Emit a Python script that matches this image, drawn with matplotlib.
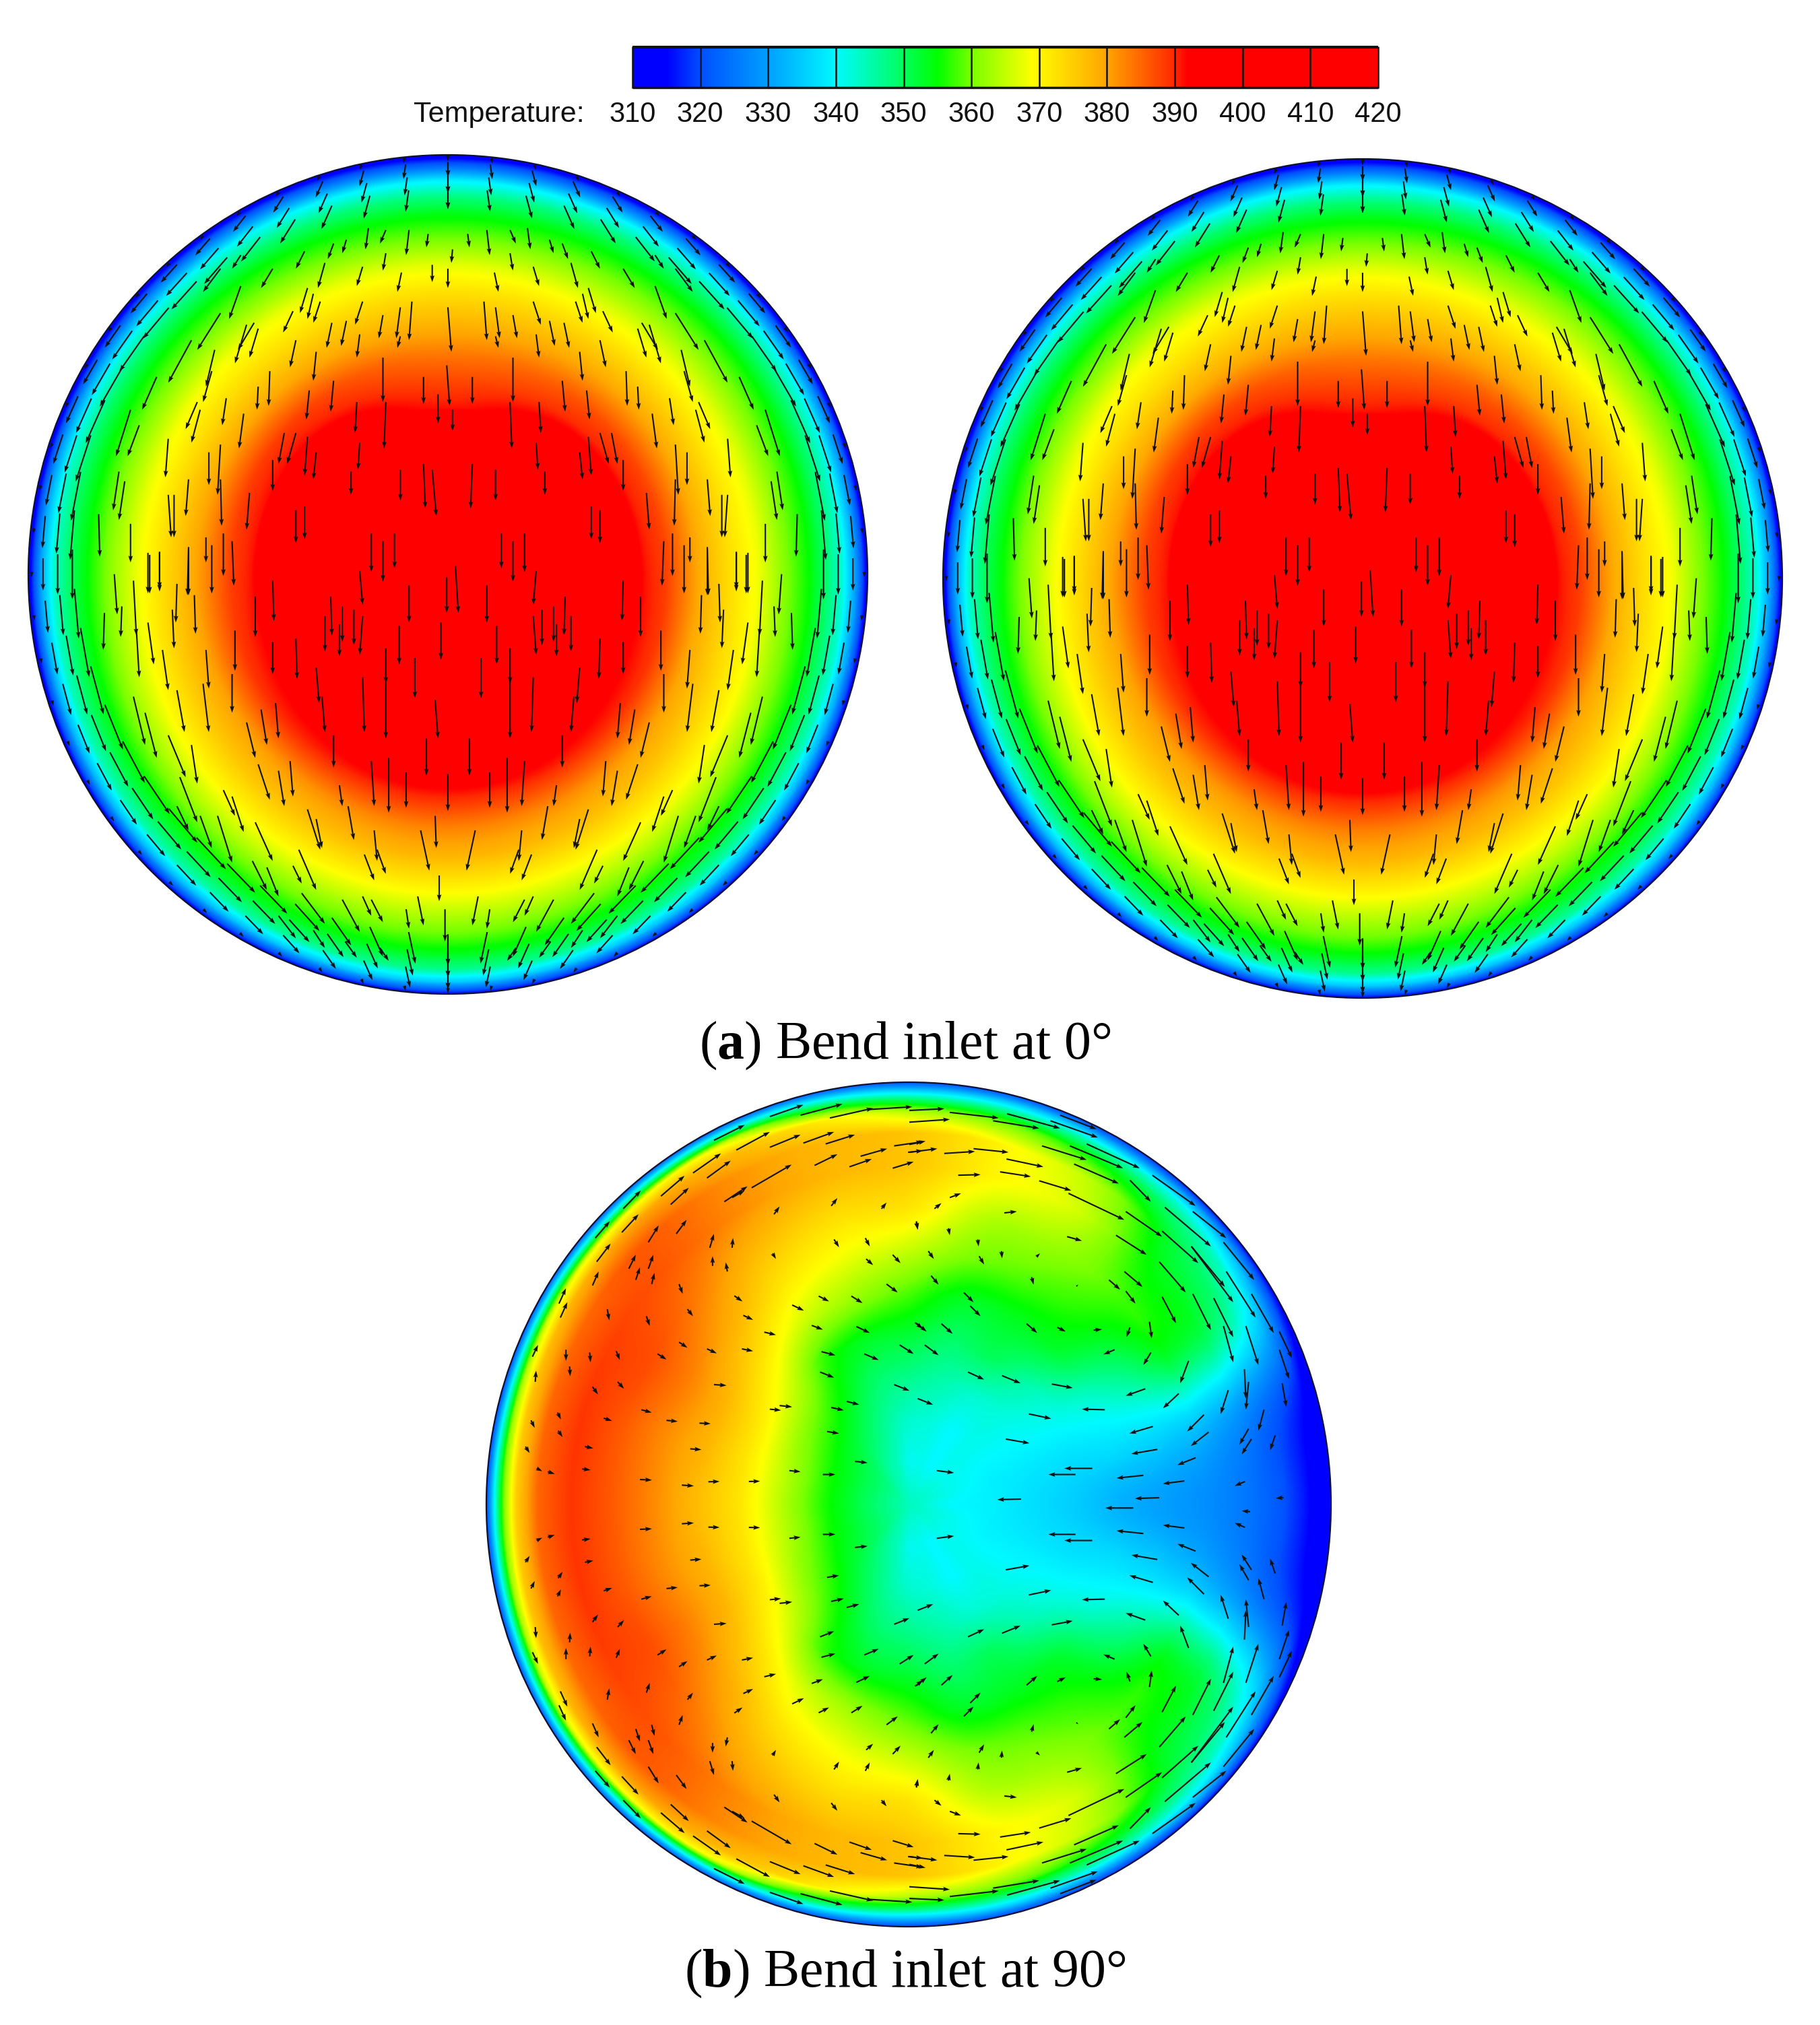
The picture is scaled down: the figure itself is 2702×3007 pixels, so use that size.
import numpy as np
import matplotlib
matplotlib.use("Agg")
import matplotlib.pyplot as plt
from matplotlib.colors import LinearSegmentedColormap
from matplotlib.patches import Circle

plt.rcParams["mathtext.fontset"] = "custom"
plt.rcParams["mathtext.rm"] = "Liberation Serif"
plt.rcParams["mathtext.bf"] = "Liberation Serif:bold"

# colour scale
cbar_ticks = [310, 320, 330, 340, 350, 360, 370, 380, 390, 400, 410, 420]
cmap_vals = [310, 315, 320, 330, 340, 350, 355, 360, 369, 380, 390, 392, 420]
cmap_cols = [(0, 0, 255), (0, 0, 255), (0, 80, 255), (0, 160, 255), (0, 250, 255), (0, 255, 90),
             (0, 255, 0), (120, 255, 0), (255, 255, 0), (255, 165, 0), (255, 40, 0), (255, 0, 0), (255, 0, 0)]

# temperature along rays, panel (a). columns: right, NE, top, NW, left, SW, bottom, SE
a_r = [0, .30, .40, .47, .52, .60, .67, .74, .80, .86, .90, .94, .97, 1.0, 1.03]
a_deg = [0, 45, 90, 135, 180, 225, 270, 315]
a_temp = [
    [420, 420, 420, 420, 420, 420, 420, 420],
    [412, 410, 405, 410, 412, 412, 414, 412],
    [400, 398, 391, 398, 400, 401, 405, 401],
    [391, 390, 387, 391, 391, 393, 396, 393],
    [388, 387, 384, 388, 388, 390, 391, 390],
    [379, 379, 378, 379, 380, 381, 383, 381],
    [373, 373, 373, 373, 374, 376, 378, 376],
    [368, 367, 367, 368, 368, 370, 371, 370],
    [361, 361, 360, 361, 362, 364, 365, 364],
    [355, 355, 354, 355, 355, 357, 359, 357],
    [349, 349, 348, 349, 350, 352, 354, 352],
    [342, 341, 339, 341, 343, 345, 347, 345],
    [330, 328, 325, 328, 331, 333, 335, 333],
    [312, 312, 312, 312, 312, 314, 314, 314],
    [310, 310, 310, 310, 310, 310, 310, 310],
]

# temperature along rays, panel (b), upper half (0 = right, 90 = top, 180 = left)
b_r = [0, .1, .2, .3, .4, .5, .6, .7, .8, .88, .93, .96, .98, 1.0, 1.03]
b_deg = [0, 15, 30, 45, 60, 75, 90, 105, 120, 135, 150, 165, 180]
b_temp = [
    [344, 344, 344, 344, 344, 344, 344, 344, 344, 344, 344, 344, 344],
    [340, 341, 341, 341, 340, 341, 341, 344, 346, 349, 350, 350, 350],
    [339, 339, 340, 341, 340, 342, 343, 346, 350, 353, 355, 356, 356],
    [337, 338, 340, 342, 343, 345, 347, 349, 354, 359, 362, 364, 364],
    [335, 337, 341, 345, 350, 349, 352, 353, 357, 366, 371, 372, 372],
    [332, 337, 343, 352, 353, 353, 358, 362, 366, 373, 378, 378, 377],
    [330, 336, 347, 355, 358, 360, 365, 368, 372, 379, 383, 382, 382],
    [328, 334, 353, 358, 362, 364, 372, 373, 377, 383, 387, 386, 386],
    [325, 329, 351, 355, 366, 370, 376, 378, 382, 386, 388, 389, 389],
    [321, 323, 345, 352, 364, 370, 376, 378, 382, 386, 385, 385, 385],
    [317, 319, 338, 347, 354, 360, 364, 372, 378, 380, 378, 376, 375],
    [314, 316, 330, 340, 344, 346, 348, 355, 368, 368, 366, 362, 360],
    [312, 313, 322, 330, 332, 335, 335, 340, 345, 345, 345, 342, 342],
    [310, 310, 314, 315, 318, 320, 320, 322, 322, 322, 322, 320, 320],
    [310, 310, 310, 310, 312, 312, 312, 312, 312, 312, 312, 312, 312],
]

# near-wall vectors of panel (a), left half: angle from top, tilt off vertical, lengths on 4 rings
rim_deg = [0, 6, 12, 18, 24, 30, 36, 42, 48, 54, 60, 66, 72, 78, 84, 90, 96, 102, 108, 114, 120, 126, 132, 138, 144, 150, 156, 162, 168, 174, 180]
rim_tilt = [0, 8, 15, 24, 32, 38, 41, 42, 40, 35, 30, 24, 18, 11, 5, 0, -5, -10, -15, -22, -28, -34, -40, -43, -44, -44, -42, -35, -24, -12, 0]
rim_r = [.992, .965, .93, .895]
rim_len = [
    [8, 8, 8, 8, 8, 8, 8, 8, 8, 8, 8, 8, 8, 8, 8, 8, 8, 8, 8, 8, 8, 8, 8, 8, 8, 8, 8, 8, 8, 8, 8],
    [22, 22, 24, 26, 28, 30, 33, 36, 38, 40, 42, 44, 46, 46, 48, 48, 48, 48, 48, 46, 46, 44, 42, 42, 40, 38, 36, 34, 32, 32, 30],
    [26, 27, 30, 32, 35, 38, 42, 46, 50, 52, 54, 56, 58, 60, 60, 60, 60, 60, 60, 58, 58, 56, 54, 52, 50, 48, 45, 42, 40, 40, 38],
    [30, 32, 35, 38, 42, 46, 52, 56, 60, 64, 68, 70, 72, 74, 74, 74, 74, 74, 74, 72, 70, 68, 66, 64, 60, 58, 54, 50, 48, 48, 46],
]

# inner vectors of panel (a), left half: x0, y0, x1, y1
a_top_arrows = [
    (665, 595, 655, 630), (705, 595, 700, 660), (738, 605, 735, 640), (635, 590, 630, 645), (597, 620, 590, 655),
    (575, 630, 565, 670), (525, 650, 510, 695), (415, 660, 400, 695), (380, 695, 350, 755), (470, 695, 450, 745),
    (560, 680, 548, 745), (625, 690, 615, 740), (665, 655, 660, 700), (692, 705, 685, 755), (780, 645, 778, 680),
    (745, 685, 745, 730), (772, 695, 772, 745), (415, 740, 395, 825), (530, 745, 517, 810), (540, 760, 530, 825),
    (552, 780, 540, 835), (710, 780, 705, 880), (690, 795, 683, 875), (660, 815, 653, 875), (625, 780, 612, 840),
    (572, 835, 563, 900), (597, 830, 588, 895), (505, 805, 488, 860), (772, 795, 778, 910), (510, 880, 500, 950),
    (438, 835, 410, 905), (425, 840, 405, 940), (445, 850, 430, 925), (620, 865, 615, 925), (690, 870, 685, 900),
    (380, 810, 340, 905), (330, 880, 290, 990), (465, 960, 463, 1050), (445, 1000, 443, 1060), (370, 905, 355, 1000),
    (365, 960, 350, 1040), (340, 1040, 320, 1110), (345, 1060, 330, 1145), (420, 1070, 412, 1160), (390, 1030, 383, 1100),
    (545, 910, 540, 985), (575, 985, 570, 1065), (533, 1010, 528, 1085), (615, 1040, 612, 1120), (660, 925, 660, 1040),
    (730, 975, 730, 1045), (770, 945, 775, 1050), (755, 1020, 755, 1095), (780, 1060, 780, 1115), (665, 1040, 662, 1160),
    (620, 1145, 617, 1215), (510, 1120, 495, 1200), (490, 1120, 480, 1200), (530, 1130, 525, 1230), (545, 1170, 540, 1240),
    (290, 1135, 285, 1235), (380, 1150, 375, 1280), (360, 1170, 360, 1255), (270, 975, 245, 1060), (225, 1060, 200, 1180),
    (240, 1100, 220, 1180), (205, 1220, 195, 1320), (215, 1245, 205, 1345), (290, 1280, 295, 1390), (300, 1280, 300, 1390),
    (325, 1240, 320, 1335), (380, 1240, 382, 1360), (430, 1275, 425, 1370), (470, 1190, 470, 1270), (525, 1310, 525, 1395),
    (510, 1320, 510, 1405), (605, 1220, 605, 1280), (690, 1215, 690, 1295), (730, 1200, 733, 1315), (745, 1215, 752, 1335),
    (640, 1380, 640, 1480), (660, 1400, 660, 1505), (680, 1380, 680, 1470), (225, 1355, 225, 1455), (170, 1330, 172, 1440),
    (255, 1430, 255, 1535), (275, 1430, 275, 1530), (325, 1415, 325, 1540), (355, 1390, 355, 1455), (385, 1380, 385, 1490),
    (400, 1400, 403, 1515),
]
a_low_arrows = [
    (258, 50, 258, 170), (275, 40, 275, 155), (325, 30, 323, 175), (365, 20, 365, 170), (197, 110, 202, 235),
    (230, 130, 235, 300), (305, 140, 303, 260), (335, 175, 337, 295), (297, 220, 300, 340), (180, 230, 178, 345),
    (210, 210, 208, 305), (440, 180, 440, 305), (470, 130, 472, 255), (405, 285, 405, 410), (355, 345, 360, 465),
    (470, 320, 470, 420), (510, 310, 512, 435), (560, 240, 560, 350), (570, 180, 572, 300), (590, 210, 590, 320),
    (610, 220, 610, 330), (585, 265, 585, 365), (620, 100, 625, 205), (705, 145, 705, 260), (770, 120, 770, 230),
    (785, 85, 790, 230), (625, 240, 620, 360), (688, 270, 688, 390), (715, 370, 715, 495), (760, 260, 760, 375),
    (665, 340, 665, 450), (750, 500, 755, 620), (545, 400, 550, 510), (555, 490, 560, 600), (625, 430, 628, 600),
    (665, 440, 665, 620), (575, 610, 575, 710), (735, 620, 735, 735), (640, 690, 645, 830), (670, 680, 670, 850),
    (700, 725, 700, 835), (585, 765, 590, 830), (772, 730, 772, 845), (400, 420, 400, 540), (350, 450, 360, 600),
    (305, 470, 318, 600), (280, 345, 290, 470), (235, 280, 240, 430), (255, 260, 265, 390), (230, 490, 250, 640),
    (250, 540, 270, 680), (290, 610, 320, 740), (330, 640, 340, 760), (425, 570, 440, 680), (450, 530, 460, 640),
    (475, 510, 480, 620), (445, 700, 465, 810), (480, 720, 490, 830), (500, 690, 505, 800), (310, 740, 340, 880),
    (385, 780, 405, 860), (305, 830, 325, 905), (345, 860, 365, 960), (375, 860, 400, 1005), (400, 800, 420, 910),
    (440, 880, 470, 1000), (530, 840, 552, 965), (545, 870, 555, 960), (600, 830, 610, 935), (645, 905, 650, 1000),
    (628, 980, 645, 1060), (650, 965, 665, 1040), (725, 905, 740, 1030), (750, 860, 752, 960), (435, 1000, 460, 1090),
    (460, 1020, 480, 1110), (515, 965, 545, 1090), (505, 1015, 520, 1070), (520, 1100, 560, 1195), (590, 1120, 620, 1220),
    (640, 1120, 660, 1190), (625, 1110, 640, 1170), (720, 1110, 730, 1200), (767, 1150, 767, 1250), (757, 1045, 757, 1125),
    (700, 1150, 705, 1210), (480, 1170, 510, 1240), (540, 1215, 560, 1270), (595, 1250, 615, 1300), (655, 1270, 670, 1310),
]

# vectors of panel (b), upper half, left crop then right crop
b_left_arrows = [
    (1020, 140, 1140, 98), (1130, 135, 1280, 95), (1235, 145, 1390, 110), (1370, 115, 1530, 105), (820, 225, 930, 170),
    (900, 260, 1020, 195), (1020, 250, 1130, 205), (1140, 235, 1250, 195), (1220, 238, 1325, 205), (1465, 245, 1568, 230),
    (1515, 268, 1568, 262), (745, 342, 845, 272), (795, 360, 880, 298), (955, 395, 1098, 312), (1180, 315, 1262, 275),
    (1305, 320, 1385, 292), (1345, 282, 1440, 255), (1460, 325, 1535, 302), (630, 425, 715, 352), (665, 455, 730, 395),
    (857, 445, 940, 390), (885, 430, 930, 405), (495, 470, 558, 405), (490, 555, 550, 490), (585, 590, 622, 530),
    (685, 560, 722, 510), (395, 575, 447, 515), (400, 660, 450, 595), (515, 685, 540, 635), (585, 685, 603, 635),
    (385, 745, 407, 695), (805, 610, 820, 560), (885, 610, 888, 575), (1035, 490, 1055, 462), (1240, 460, 1262, 432),
    (1420, 470, 1438, 448), (540, 725, 555, 680), (597, 740, 607, 700), (815, 675, 815, 640), (868, 695, 862, 662),
    (1030, 630, 1042, 650), (1250, 580, 1268, 608), (1362, 575, 1378, 605), (1545, 515, 1550, 545), (1365, 650, 1390, 672),
    (1460, 635, 1488, 665), (695, 740, 708, 775), (265, 810, 290, 755), (270, 860, 295, 805), (438, 830, 445, 870),
    (578, 855, 590, 890), (725, 830, 745, 855), (893, 782, 922, 802), (1195, 783, 1232, 802), (1312, 783, 1352, 808),
    (1438, 740, 1478, 770), (1100, 815, 1142, 835), (925, 852, 960, 868), (1170, 888, 1210, 903), (1330, 892, 1378, 915),
    (1540, 878, 1568, 900), (1000, 912, 1042, 922), (170, 1000, 190, 958), (290, 975, 290, 1015), (375, 985, 378, 1020),
    (470, 980, 483, 1012), (695, 948, 725, 968), (618, 990, 650, 1010), (795, 972, 830, 988), (920, 972, 960, 980),
    (1205, 982, 1255, 995), (1358, 990, 1410, 1012), (1485, 958, 1535, 990), (180, 1090, 183, 1050), (303, 1035, 305, 1070),
    (475, 1090, 498, 1115), (385, 1108, 405, 1135), (820, 1100, 865, 1103), (1200, 1055, 1250, 1075), (1465, 1100, 1520, 1122),
    (260, 1200, 272, 1225), (165, 1228, 178, 1255), (262, 1265, 278, 1288), (560, 1190, 597, 1200), (425, 1220, 455, 1230),
    (650, 1228, 690, 1232), (768, 1238, 808, 1240), (1020, 1188, 1060, 1192), (1055, 1175, 1100, 1180), (1240, 1182, 1285, 1192),
    (1295, 1160, 1340, 1172), (145, 1322, 160, 1345), (358, 1322, 388, 1328), (735, 1330, 775, 1333), (1225, 1268, 1268, 1275),
    (1325, 1375, 1370, 1380), (185, 1400, 205, 1410), (225, 1412, 250, 1420), (348, 1402, 378, 1406), (555, 1440, 598, 1442),
    (705, 1460, 748, 1463), (800, 1448, 840, 1447), (945, 1447, 985, 1446), (1090, 1408, 1130, 1412), (1210, 1422, 1255, 1422),
]
b_right_arrows = [
    (0, 118, 125, 112), (0, 160, 145, 150), (145, 125, 320, 145), (300, 155, 465, 182), (350, 130, 540, 182),
    (505, 155, 675, 215), (540, 135, 670, 185), (475, 245, 635, 295), (575, 245, 765, 325), (635, 238, 825, 325),
    (590, 310, 750, 380), (790, 368, 865, 445), (870, 350, 1025, 460), (0, 240, 58, 228), (0, 268, 100, 255),
    (125, 272, 235, 265), (230, 255, 355, 268), (348, 292, 480, 320), (325, 338, 435, 355), (175, 350, 255, 348),
    (465, 370, 580, 405), (570, 415, 770, 510), (775, 480, 905, 570), (740, 565, 850, 635), (905, 550, 1035, 665),
    (915, 465, 1080, 605), (1010, 605, 1130, 750), (895, 660, 990, 770), (1015, 480, 1135, 575), (1125, 590, 1235, 725),
    (1135, 695, 1240, 860), (1090, 790, 1160, 930), (1015, 775, 1080, 905), (905, 785, 955, 880), (1010, 605, 1160, 805),
    (1225, 775, 1305, 915), (1205, 890, 1250, 1030), (1125, 890, 1160, 1020), (1325, 910, 1370, 1005), (1325, 975, 1360, 1080),
    (1200, 1045, 1205, 1150), (1215, 1090, 1205, 1190), (1335, 1095, 1350, 1180), (770, 695, 835, 750), (715, 725, 755, 760),
    (775, 765, 810, 810), (565, 570, 618, 585), (340, 485, 385, 480), (145, 430, 185, 415), (90, 470, 115, 450),
    (25, 518, 30, 545), (140, 540, 145, 565), (245, 580, 248, 605), (330, 622, 332, 648), (455, 642, 468, 630),
    (68, 622, 88, 650), (250, 640, 268, 670), (78, 710, 105, 742), (438, 715, 445, 742), (598, 748, 605, 742),
    (195, 770, 230, 805), (218, 818, 255, 855), (25, 880, 62, 910), (115, 882, 155, 918), (420, 882, 458, 915),
    (530, 895, 560, 910), (660, 905, 690, 902), (790, 895, 778, 930), (860, 875, 868, 935), (55, 958, 105, 995),
    (735, 975, 695, 992), (865, 985, 838, 1030), (1000, 1015, 970, 1095), (965, 1132, 908, 1185), (210, 1055, 268, 1082),
    (332, 1068, 398, 1095), (510, 1098, 585, 1112), (845, 1115, 775, 1140), (30, 1150, 85, 1172), (700, 1190, 618, 1188),
    (428, 1205, 508, 1222), (872, 1250, 788, 1275), (1055, 1208, 995, 1268), (1142, 1120, 1115, 1205), (1270, 1190, 1250, 1265),
    (1072, 1270, 1008, 1320), (345, 1295, 430, 1310), (888, 1332, 795, 1348), (1215, 1258, 1182, 1315), (1225, 1295, 1190, 1350),
    (1310, 1282, 1292, 1335), (98, 1408, 160, 1416), (655, 1400, 555, 1400), (595, 1422, 498, 1422), (838, 1425, 742, 1435),
    (1025, 1362, 960, 1388), (985, 1445, 908, 1455), (1202, 1447, 1165, 1463), (400, 1510, 315, 1512), (895, 1505, 808, 1508),
    (802, 1542, 702, 1542), (1340, 1505, 1312, 1507), (1220, 1555, 1190, 1552),
]

# make the colormap
lo, hi = cmap_vals[0], cmap_vals[-1]
jet_like = LinearSegmentedColormap.from_list(
    "temp", [((v - lo) / (hi - lo), tuple(c / 255 for c in col)) for v, col in zip(cmap_vals, cmap_cols)], N=1024)


def cr_weights(f):
    """Catmull-Rom weights for a fraction f between two nodes"""
    return (-.5 * f + f**2 - .5 * f**3, 1 - 2.5 * f**2 + 1.5 * f**3,
            .5 * f + 2 * f**2 - 1.5 * f**3, -.5 * f**2 + .5 * f**3)


def field_image(r_nodes, deg_nodes, temp, cx, cy, R, mirror):
    """Smooth lookup of the ray table on a pixel grid round the disk"""
    temp = np.array(temp, dtype=float)
    deg_nodes = np.array(deg_nodes, dtype=float)
    if mirror:
        temp = np.hstack([temp, temp[:, -2:0:-1]])
        deg_nodes = np.concatenate([deg_nodes, 360 - deg_nodes[-2:0:-1]])
    n_deg = len(deg_nodes)
    step = deg_nodes[1] - deg_nodes[0]
    r_nodes = np.array(r_nodes, dtype=float)

    px = np.arange(int(cx - R) - 2, int(cx + R) + 3)
    py = np.arange(int(cy - R) - 2, int(cy + R) + 3)
    xx, yy = np.meshgrid(px, py)
    rr = np.hypot(xx - cx, cy - yy) / R
    th = np.degrees(np.arctan2(cy - yy, xx - cx)) % 360

    i = np.clip(np.searchsorted(r_nodes, rr) - 1, 0, len(r_nodes) - 2)
    fr = np.clip((rr - r_nodes[i]) / (r_nodes[i + 1] - r_nodes[i]), 0, 1)
    j = np.floor(th / step).astype(int)
    ft = th / step - j

    w_t = cr_weights(ft)
    img = np.zeros_like(rr)
    # linear along the radius, it keeps the thin wall layer sharp
    for k, w in zip((-1, 0, 1, 2), w_t):
        jj = (j + k) % n_deg
        img += w * (temp[i, jj] * (1 - fr) + temp[i + 1, jj] * fr)
    return np.clip(img, lo, hi), (px[0] - .5, px[-1] + .5, py[-1] + .5, py[0] - .5)


def draw_disk(ax, r_nodes, deg_nodes, temp, cx, cy, R, mirror=False):
    img, ext = field_image(r_nodes, deg_nodes, temp, cx, cy, R, mirror)
    im = ax.imshow(img, extent=ext, cmap=jet_like, vmin=lo, vmax=hi, interpolation="bilinear", zorder=1)
    clip = Circle((cx, cy), R, transform=ax.transData)
    im.set_clip_path(clip)
    ax.add_patch(Circle((cx, cy), R, fill=False, ec="#101030", lw=1.6, zorder=3))


def draw_arrows(ax, x, y, u, v):
    ax.quiver(x, y, u, v, angles="xy", scale_units="xy", scale=1, units="xy", width=2.1,
              headwidth=3.2, headlength=4.8, headaxislength=4.2, minlength=0, color="#111111", zorder=2)


def panel_a_arrows(ax, cx, cy, R):
    a1 = np.array(a_top_arrows, dtype=float)
    a2 = np.array(a_low_arrows, dtype=float)
    # crops were stretched, bring them back to picture pixels
    x0 = np.concatenate([a1[:, 0] / 1.161, a2[:, 0] / 1.161])
    x1 = np.concatenate([a1[:, 2] / 1.161, a2[:, 2] / 1.161])
    y0 = np.concatenate([a1[:, 1] / 1.742, 800 + a2[:, 1] / 2.09])
    y1 = np.concatenate([a1[:, 3] / 1.742, 800 + a2[:, 3] / 2.09])
    dx0 = x0 - 665
    du = x1 - x0
    dv = y1 - y0
    yy = y0 - 853 + cy
    # arrows on the middle line are not doubled
    far = np.abs(dx0) > 25
    xs = [cx + dx0, cx - dx0[far]]
    ys = [yy, yy[far]]
    us = [du, -du[far]]
    vs = [dv, dv[far]]
    # the rings along the wall
    deg = np.radians(rim_deg)
    tilt = np.radians(rim_tilt)
    for ring, lens in zip(rim_r, rim_len):
        lens = np.array(lens, dtype=float)
        for side in (-1, 1):
            xs.append(cx + side * ring * R * np.sin(deg))
            ys.append(cy - ring * R * np.cos(deg) - lens * np.cos(tilt) / 2)
            us.append(side * lens * np.sin(tilt))
            vs.append(lens * np.cos(tilt))
    draw_arrows(ax, np.concatenate(xs), np.concatenate(ys), np.concatenate(us), np.concatenate(vs))


def panel_b_arrows(ax, cx, cy):
    a1 = np.array(b_left_arrows, dtype=float) / 2.412
    a2 = np.array(b_right_arrows, dtype=float) / 2.412
    x0 = np.concatenate([720 + a1[:, 0], 1350 + a2[:, 0]])
    x1 = np.concatenate([720 + a1[:, 2], 1350 + a2[:, 2]])
    y0 = np.concatenate([1600 + a1[:, 1], 1600 + a2[:, 1]])
    y1 = np.concatenate([1600 + a1[:, 3], 1600 + a2[:, 3]])
    # lower half mirrors the upper half, but not what sits on the middle line
    far = np.abs(y0 - cy) > 15
    xs = np.concatenate([x0, x0[far]])
    ys = np.concatenate([y0, 2 * cy - y0[far]])
    us = np.concatenate([x1 - x0, (x1 - x0)[far]])
    vs = np.concatenate([y1 - y0, (y0 - y1)[far]])
    draw_arrows(ax, xs, ys, us, vs)


fig = plt.figure(figsize=(27.02, 30.07), dpi=100)
ax = fig.add_axes([0, 0, 1, 1])
ax.set_xlim(0, 2702)
ax.set_ylim(3007, 0)
ax.axis("off")

# top disks
draw_disk(ax, a_r, a_deg, a_temp, 665, 853, 623)
panel_a_arrows(ax, 665, 853, 623)
draw_disk(ax, a_r, a_deg, a_temp, 2023, 859, 623)
panel_a_arrows(ax, 2023, 859, 623)

# bottom disk
draw_disk(ax, b_r, b_deg, b_temp, 1349, 2234, 627, mirror=True)
panel_b_arrows(ax, 1349, 2234)

# legend bar
gradient = np.linspace(lo, hi, 1100).reshape(1, -1)
ax.imshow(gradient, extent=(939, 2046, 131, 69), cmap=jet_like, vmin=lo, vmax=hi, aspect="auto", zorder=1)
tick_x = np.interp(cbar_ticks, [310, 420], [939, 2046])
ax.vlines(tick_x, 69, 131, color="#111111", lw=1.8, zorder=2)
ax.hlines([70, 130], 939, 2046, color="#111111", lw=[3, 2.5], zorder=2)
for t, xp in zip(cbar_ticks, tick_x):
    ax.text(xp, 170, str(t), ha="center", va="center", fontsize=30, family="Liberation Sans", color="#111111")
ax.text(868, 170, "Temperature:", ha="right", va="center", fontsize=31, family="Liberation Sans", color="#111111")

# captions
ax.text(1344, 1553, r"($\mathbf{a}$) Bend inlet at 0°", ha="center", va="center", fontsize=57.5,
        family="Liberation Serif", color="black")
ax.text(1344, 2931, r"($\mathbf{b}$) Bend inlet at 90°", ha="center", va="center", fontsize=57.5,
        family="Liberation Serif", color="black")

ax.set_xlim(0, 2702)
ax.set_ylim(3007, 0)
ax.set_aspect("auto")
fig.savefig("out.png", dpi=100, facecolor="white")
